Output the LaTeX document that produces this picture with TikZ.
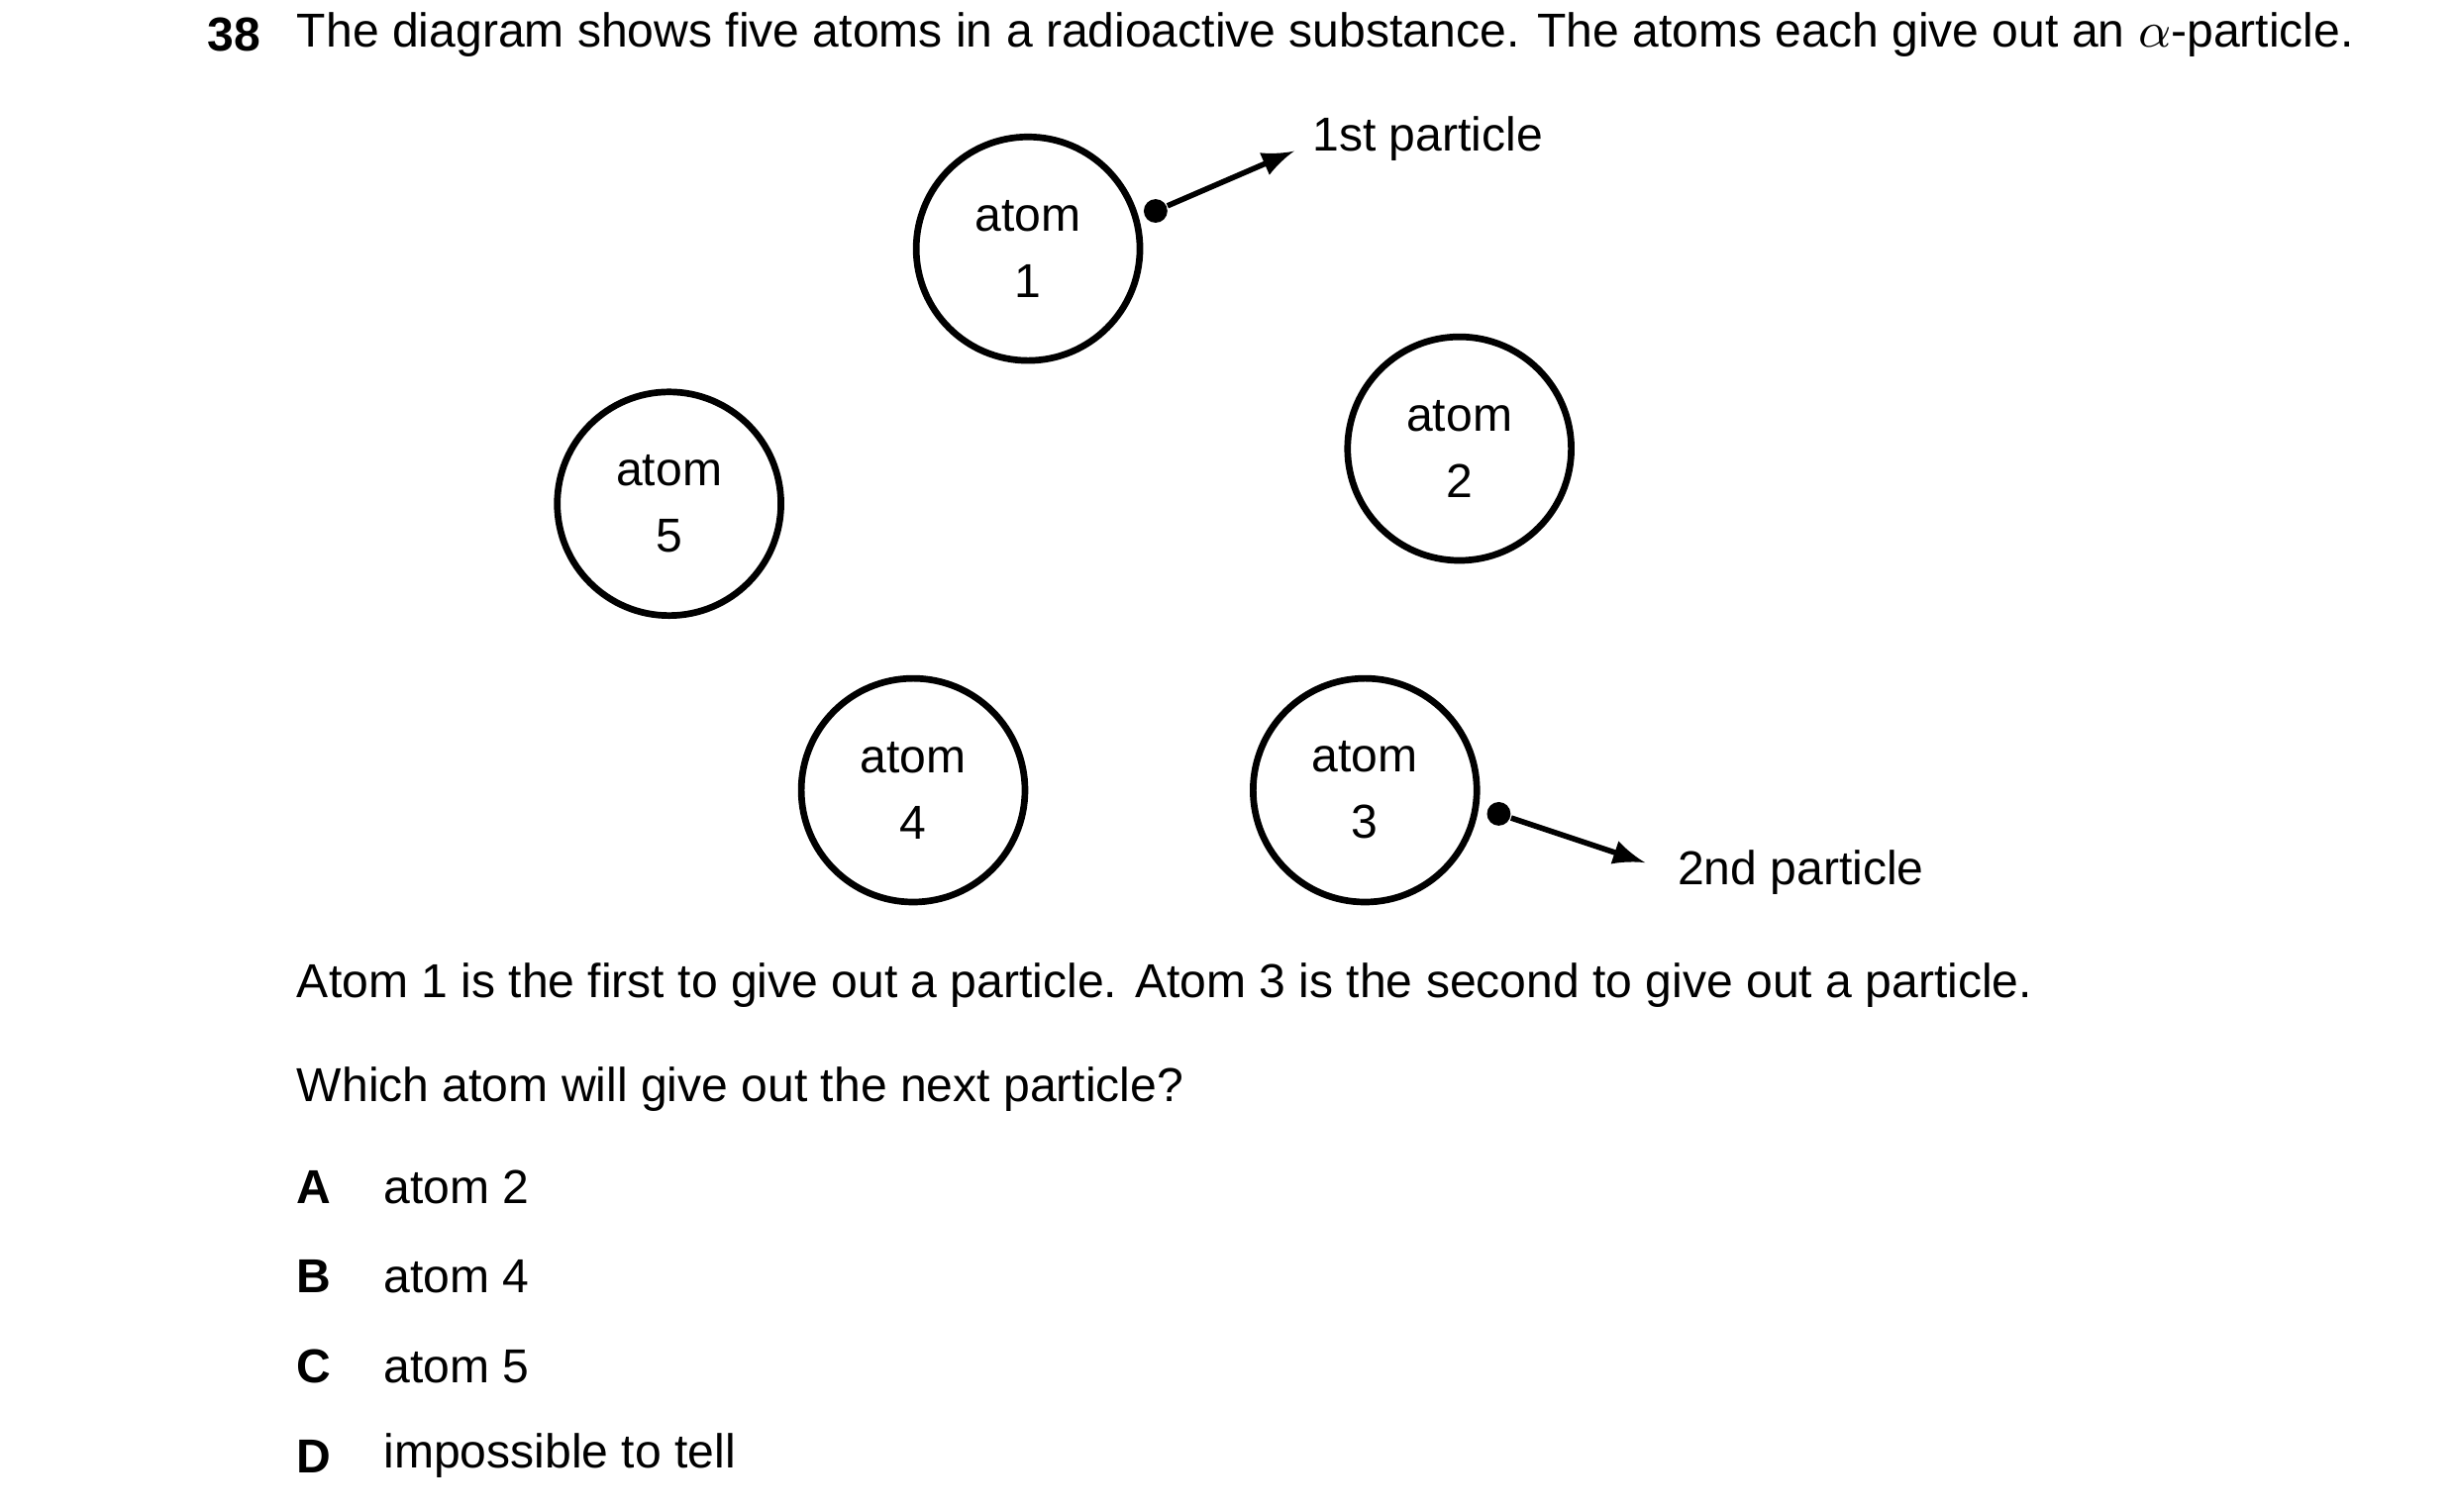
\documentclass[tikz,border=0pt]{standalone}
\usepackage{fontspec}
\setmainfont{Liberation Sans}
\usetikzlibrary{positioning}
\tikzset{
  atom/.style={draw, circle, line width=1.2pt, minimum size=1.42cm, align=center, font=\fontsize{8.6pt}{12pt}\selectfont},
  particle/.style={circle, fill=black, inner sep=0pt, minimum size=0.15cm},
  txt/.style={anchor=west, inner sep=0pt, font=\fontsize{8.6pt}{10pt}\selectfont},
}
\begin{document}
\begin{tikzpicture}[x=0.01cm,y=-0.01cm]
	\useasboundingbox (0,0) rectangle (1560,960);
	\node[txt, font=\fontsize{8.6pt}{10pt}\selectfont\bfseries] (num) at (131,22) {38};
	\node[txt] (title) at (188,22) {The diagram shows five atoms in a radioactive substance. The atoms each give out an $\alpha$-particle.};
	
	\node[atom] (a1) at (653,158) {atom\\1};
	\node[atom] (a2) at (927,285) {atom\\2};
	\node[atom] (a5) at (425,320) {atom\\5};
	\node[atom] (a4) at (580,502) {atom\\4};
	\node[atom] (a3) at (867,502) {atom\\3};
	
	\node[particle] (p1) at (734,134) {};
	\coordinate (e1) at (822,96);
	\draw[line width=1pt, -latex] (p1) -- (e1);
	\node[txt] (l1) at (833,88) {1st particle};
	
	\node[particle] (p2) at (952,517) {};
	\coordinate (e2) at (1045,548);
	\draw[line width=1pt, -latex] (p2) -- (e2);
	\node[txt] (l2) at (1065,554) {2nd particle};
	
	\node[txt] (s1) at (188,626) {Atom 1 is the first to give out a particle. Atom 3 is the second to give out a particle.};
	\node[txt] (s2) at (188,692) {Which atom will give out the next particle?};
	
	\foreach \y/\k/\t in {754/A/atom 2, 811/B/atom 4, 868/C/atom 5, 925/D/impossible to tell}{
		\node[txt, font=\fontsize{8.6pt}{10pt}\selectfont\bfseries] (k\k) at (188,\y) {\k};
		\node[txt] (o\k) at (243,\y) {\t};
	}
\end{tikzpicture}
\end{document}
